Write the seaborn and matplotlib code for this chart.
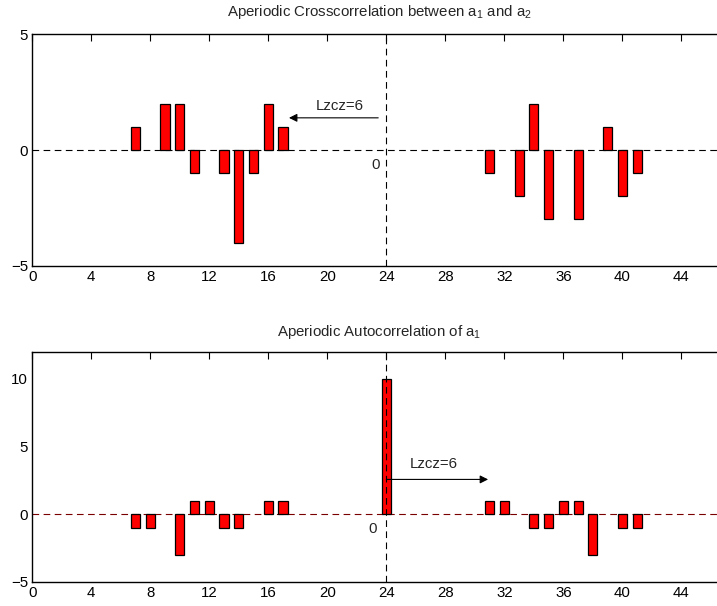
import matplotlib
matplotlib.use("Agg")
import matplotlib.pyplot as plt
import seaborn as sns
import pandas as pd

# Data
cross_lags = [7, 9, 10, 11, 13, 14, 15, 16, 17, 31, 33, 34, 35, 37, 39, 40, 41]
cross_vals = [1, 2, 2, -1, -1, -4, -1, 2, 1, -1, -2, 2, -3, -3, 1, -2, -1]
auto_lags = [7, 8, 10, 11, 12, 13, 14, 16, 17, 24, 31, 32, 34, 35, 36, 37, 38, 40, 41]
auto_vals = [-1, -1, -3, 1, 1, -1, -1, 1, 1, 10, 1, 1, -1, -1, 1, 1, -3, -1, -1]
xticks = list(range(0, 45, 4))
top_title = "Aperiodic Crosscorrelation between a$_{\\mathregular{1}}$ and a$_{\\mathregular{2}}$"
bot_title = "Aperiodic Autocorrelation of a$_{\\mathregular{1}}$"
lzcz_label = "Lzcz=6"

sns.set_theme(style="white")
plt.rcParams['font.family'] = ['Liberation Sans', 'DejaVu Sans']
plt.rcParams['mathtext.fontset'] = 'custom'
plt.rcParams['mathtext.rm'] = 'Liberation Sans'
plt.rcParams['mathtext.it'] = 'Liberation Sans'

fig = plt.figure(figsize=(7.17, 6.06), dpi=100)
W, H = 717, 606
x0px, x47px = 32.3, 725.6
ax1 = fig.add_axes([x0px / W, (H - 265.7) / H, (x47px - x0px) / W, (265.7 - 34.3) / H])
ax2 = fig.add_axes([x0px / W, (H - 581.7) / H, (x47px - x0px) / W, (581.7 - 351.7) / H])

df1 = pd.DataFrame({"lag": cross_lags, "val": cross_vals})
df2 = pd.DataFrame({"lag": auto_lags, "val": auto_vals})

dash = (0, (6, 4))
for ax, df, ylim, yticks, zcol in [
    (ax1, df1, (-5, 5), [-5, 0, 5], 'black'),
    (ax2, df2, (-5, 12), [-5, 0, 5, 10], '#7a0000'),
]:
    ax.axhline(0, color=zcol, lw=0.8, ls=dash, zorder=1)
    sns.barplot(data=df, x="lag", y="val", native_scale=True, width=0.62,
                color='red', saturation=1, edgecolor='black', linewidth=0.9,
                errorbar=None, ax=ax, zorder=2)
    ax.axvline(24, color='black', lw=0.8, ls=dash, zorder=3)
    ax.set_xlim(0, 47)
    ax.set_ylim(*ylim)
    ax.set_xticks(xticks)
    ax.set_yticks(yticks)
    ax.set_xlabel("")
    ax.set_ylabel("")
    ax.tick_params(direction='in', top=True, right=False, length=5, width=0.8,
                   labelsize=10.8, pad=3, colors='black')
    for s in ax.spines.values():
        s.set_color('black')
        s.set_linewidth(1.0)

fs = 10.8
ax1.text(0.5, 1.077, top_title, transform=ax1.transAxes, fontsize=fs,
         ha='center', va='baseline')
ax2.text(0.5, 1.068, bot_title, transform=ax2.transAxes, fontsize=fs,
         ha='center', va='baseline')

# "0" markers near the center line
ax1.text(23.3, -0.63, "0", fontsize=fs, ha='center', va='center')
ax2.text(23.1, -1.13, "0", fontsize=fs, ha='center', va='center')

# arrows and labels
ax1.annotate("", xy=(17.4, 1.39), xytext=(23.45, 1.39),
             arrowprops=dict(arrowstyle='-|>', color='black', lw=0.8,
                             mutation_scale=12, shrinkA=0, shrinkB=0))
ax1.text(19.2, 1.88, lzcz_label, fontsize=fs, ha='left', va='center')
ax2.annotate("", xy=(30.9, 2.56), xytext=(24.0, 2.56),
             arrowprops=dict(arrowstyle='-|>', color='black', lw=0.8,
                             mutation_scale=12, shrinkA=0, shrinkB=0))
ax2.text(25.6, 3.7, lzcz_label, fontsize=fs, ha='left', va='center')

fig.savefig("out.png", dpi=100)
